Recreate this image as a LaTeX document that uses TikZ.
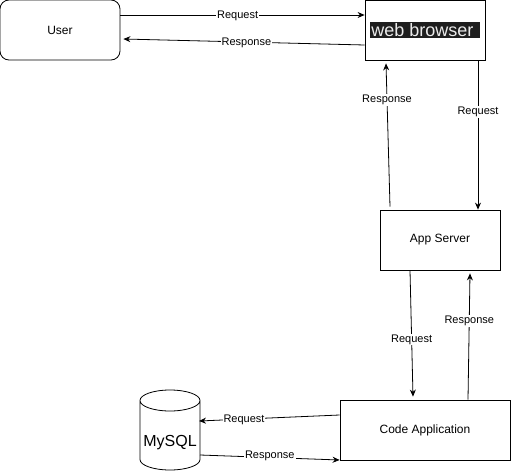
\documentclass[tikz,border=0pt]{standalone}
\usepackage{fontspec}
\setmainfont{Liberation Sans}
\usetikzlibrary{arrows.meta,positioning,shapes.geometric}
\definecolor{hlbg}{RGB}{30,30,30}
\definecolor{hltext}{RGB}{235,235,235}

\begin{document}
\begin{tikzpicture}[
  x=1pt,
  y=-1pt,
  line width=.8pt,
  box/.style={
    draw,
    minimum width=120pt,
    minimum height=60pt,
    inner sep=0pt,
    font=\fontsize{12}{14}\selectfont
  },
  flow/.style={-{Stealth[length=7pt,width=6pt]}},
  lbl/.style={
    fill=white,
    inner sep=1pt,
    yshift=-1pt,
    font=\fontsize{11}{13}\selectfont
  }
]
\useasboundingbox (0,0) rectangle (511,471);

\node[box,rounded corners=9pt] (user) at (60,30) {User};
\node[box] (browser) at (425,30)
  {\setlength\fboxsep{1pt}\colorbox{hlbg}{\textcolor{hltext}{\fontsize{18}{20}\selectfont web browser\hspace{5pt}}}};
\node[box] (app) at (440,240) {App Server};
\node[box,minimum width=170pt] (code) at (425,430) {Code Application};
\node[
  draw,
  cylinder,
  shape border rotate=90,
  aspect=.35,
  minimum width=60pt,
  minimum height=80pt,
  anchor=shape center,
  font=\fontsize{16}{18}\selectfont
] (db) at (170,430) {\raisebox{-20pt}{MySQL}};

% user <-> browser
\draw[flow] ([yshift=15pt]user.east) -- ([yshift=15pt]browser.west)
  node[lbl,pos=.48] {Request};
\draw[flow] ([yshift=-15pt]browser.west) -- ([xshift=3pt,yshift=-9pt]user.east)
  node[lbl,pos=.49] {Response};

% browser <-> app server
\draw[flow] ([xshift=53pt]browser.south) -- ([xshift=38pt]app.north)
  node[lbl,pos=.34] {Request};
\draw[flow] ([xshift=-50pt,yshift=3pt]app.north) -- ([xshift=-39pt,yshift=-3pt]browser.south)
  node[lbl,pos=.75] {Response};

% app server <-> code
\draw[flow] ([xshift=-30pt]app.south) -- ([xshift=-12pt,yshift=3pt]code.north)
  node[lbl,pos=.54] {Request};
\draw[flow] ([xshift=43pt]code.north) -- ([xshift=30pt,yshift=-3pt]app.south)
  node[lbl,pos=.63] {Response};

% code <-> database
\draw[flow] ([yshift=15pt]code.west) -- ([xshift=29pt,yshift=9pt]db.shape center)
  node[lbl,pos=.68] {Request};
\draw[flow] ([xshift=30pt,yshift=-25pt]db.shape center) -- ([yshift=-30pt]code.west)
  node[lbl,pos=.5,yshift=3pt] {Response};
\end{tikzpicture}
\end{document}
